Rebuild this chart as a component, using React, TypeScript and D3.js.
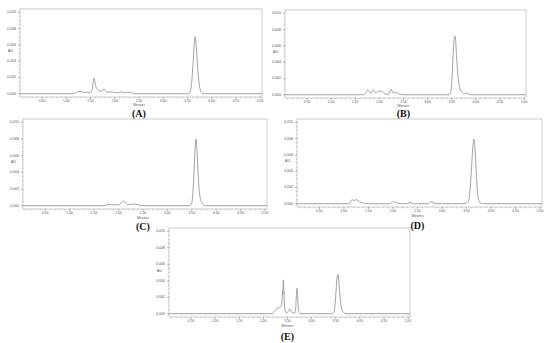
import React from 'react';
import * as d3 from 'd3';

// chromatogram readings: [minutes, AU]
const traceA: [number, number][] = [
  [0.05, 0], [1.15, 0], [1.22, 0.0002], [1.3, 0.0003], [1.35, 0.00015], [1.42, 0.0002],
  [1.49, 0.00015], [1.53, 0.0004], [1.572, 0.0019], [1.61, 0.0009], [1.655, 0.00045],
  [1.71, 0.0003], [1.78, 0.00055], [1.84, 0.0002], [1.96, 0.0002], [2.06, 0.0001],
  [2.14, 0.00025], [2.2, 0.0001], [2.28, 0.0002], [2.36, 0.0001], [2.42, 0], [3.52, 0],
  [3.56, 0.0003], [3.59, 0.0015], [3.62, 0.004], [3.645, 0.0064], [3.657, 0.007],
  [3.675, 0.0064], [3.7, 0.0042], [3.73, 0.0018], [3.76, 0.0006], [3.8, 0.0001], [3.84, 0],
  [5.04, 0],
];
const traceB: [number, number][] = [
  [0.05, 0], [1.68, 0], [1.72, 0.0002], [1.76, 0.00058], [1.82, 0.00018], [1.875, 0.00058],
  [1.93, 0.0002], [1.98, 0.00045], [2.05, 0.00042], [2.12, 0.0001], [2.19, 0.00005],
  [2.24, 0.00067], [2.29, 0.0002], [2.34, 0.0003], [2.41, 0.0001], [2.49, 0], [3.44, 0],
  [3.48, 0.0003], [3.51, 0.0025], [3.535, 0.0055], [3.555, 0.007], [3.568, 0.0072],
  [3.58, 0.0068], [3.6, 0.0048], [3.625, 0.0026], [3.65, 0.0013], [3.68, 0.0006],
  [3.72, 0.0003], [3.76, 0.0001], [3.8, 0.0002], [3.84, 0.0001], [3.88, 0], [5.04, 0],
];
const traceC: [number, number][] = [
  [0.05, 0], [1.72, 0], [1.79, 0.00017], [1.86, 0.0001], [2.0, 0.0001], [2.05, 0.0003],
  [2.1, 0.00056], [2.15, 0.0003], [2.19, 0.0001], [2.3, 0.0002], [2.4, 0.0001], [2.47, 0],
  [3.46, 0], [3.5, 0.0003], [3.525, 0.0018], [3.55, 0.0045], [3.57, 0.0072], [3.586, 0.008],
  [3.6, 0.0073], [3.62, 0.005], [3.645, 0.0024], [3.67, 0.001], [3.7, 0.0004], [3.74, 0.0001],
  [3.78, 0], [5.04, 0],
];
const traceD: [number, number][] = [
  [0.05, 0], [1.1, 0], [1.17, 0.0005], [1.21, 0.0004], [1.25, 0.0005], [1.33, 0.0002],
  [1.4, 0.0001], [1.46, 0], [1.93, 0], [2.01, 0.00025], [2.08, 0.0001], [2.15, 0], [2.28, 0],
  [2.35, 0.00015], [2.42, 0], [2.7, 0], [2.79, 0.00025], [2.88, 0], [3.4, 0], [3.5, 0.0001],
  [3.54, 0.0003], [3.57, 0.0015], [3.6, 0.004], [3.625, 0.0066], [3.653, 0.0079],
  [3.675, 0.0066], [3.7, 0.0038], [3.725, 0.0014], [3.75, 0.0004], [3.78, 0.0001], [3.82, 0],
  [5.04, 0],
];
const traceE: [number, number][] = [
  [0.05, 0], [2.19, 0], [2.24, 0.0004], [2.29, 0.00065], [2.35, 0.0008], [2.375, 0.001],
  [2.39, 0.0018], [2.397, 0.0027], [2.403, 0.0023], [2.408, 0.003], [2.414, 0.0041],
  [2.425, 0.003], [2.44, 0.001], [2.46, 0.0002], [2.49, 0.0001], [2.55, 0.00053],
  [2.6, 0.0001], [2.65, 0.0001], [2.67, 0.0006], [2.685, 0.0022], [2.698, 0.0031],
  [2.71, 0.0022], [2.725, 0.0007], [2.745, 0.0001], [2.77, 0], [3.43, 0], [3.47, 0.0003],
  [3.49, 0.0013], [3.51, 0.003], [3.53, 0.0045], [3.541, 0.0048], [3.555, 0.0045],
  [3.575, 0.0031], [3.6, 0.0015], [3.625, 0.0006], [3.66, 0.0002], [3.7, 0], [5.04, 0],
];

const traces = [traceA, traceB, traceC, traceD, traceE];
const panelLabels = ['(A)', '(B)', '(C)', '(D)', '(E)'];
const xTickValues = [0.5, 1, 1.5, 2, 2.5, 3, 3.5, 4, 4.5, 5];
const yTickValues = [0, 0.002, 0.004, 0.006, 0.008, 0.01];
const xLabel = 'Minutes';
const yLabel = 'AU';

// panel frames in page pixels
const frames = [
  { x0: 20, x1: 262, y0: 9, y1: 97, minutesY: 104.5, labelY: 113 },
  { x0: 285, x1: 526, y0: 10, y1: 98, minutesY: 105.5, labelY: 113 },
  { x0: 23, x1: 267, y0: 119, y1: 209, minutesY: 217.5, labelY: 226.5 },
  { x0: 297, x1: 542, y0: 119, y1: 207, minutesY: 215.5, labelY: 225 },
  { x0: 169, x1: 410, y0: 228, y1: 317, minutesY: 325.5, labelY: 336 },
];

const fmtX = d3.format('.2f');
const fmtY = d3.format('.3f');
const minorX = d3.range(0.1, 5.04, 0.1);
const minorY = d3.range(0, 0.0104, 0.0005);

function Panel({ data, frame, label }: { data: [number, number][]; frame: any; label: string }) {
  const x = d3.scaleLinear().domain([0.045, 5.04]).range([frame.x0, frame.x1]);
  const y = d3.scaleLinear().domain([-0.0004, 0.0104]).range([frame.y1, frame.y0]);
  const line = d3
    .line<[number, number]>()
    .x(d => x(d[0]))
    .y(d => y(d[1]))
    .curve(d3.curveMonotoneX);

  return (
    <g>
      <rect
        x={frame.x0}
        y={frame.y0}
        width={frame.x1 - frame.x0}
        height={frame.y1 - frame.y0}
        fill="none"
        stroke="#b4b4b4"
        strokeWidth={0.7}
      />
      {minorX.map(t => (
        <line key={'mx' + t} x1={x(t)} x2={x(t)} y1={frame.y1} y2={frame.y1 + 1.3} stroke="#999" strokeWidth={0.5} />
      ))}
      {xTickValues.map(t => (
        <g key={'x' + t}>
          <line x1={x(t)} x2={x(t)} y1={frame.y1} y2={frame.y1 + 2.2} stroke="#888" strokeWidth={0.5} />
          <text x={x(t)} y={frame.y1 + 3.8} fontSize={3.4} fill="#555" textAnchor="middle" dominantBaseline="central">
            {fmtX(t)}
          </text>
        </g>
      ))}
      {minorY.map(v => (
        <line key={'my' + v} x1={frame.x0 - 1.2} x2={frame.x0} y1={y(v)} y2={y(v)} stroke="#999" strokeWidth={0.5} />
      ))}
      {yTickValues.map(v => (
        <g key={'y' + v}>
          <line x1={frame.x0 - 2.2} x2={frame.x0} y1={y(v)} y2={y(v)} stroke="#888" strokeWidth={0.5} />
          <text x={frame.x0 - 4} y={y(v)} fontSize={3.6} fill="#555" textAnchor="end" dominantBaseline="central">
            {fmtY(v)}
          </text>
        </g>
      ))}
      <text x={frame.x0 - 9.5} y={y(0.0052)} fontSize={3.6} fill="#555" textAnchor="middle" dominantBaseline="central">
        {yLabel}
      </text>
      <text x={x(2.5)} y={frame.minutesY} fontSize={3.4} fill="#555" textAnchor="middle" dominantBaseline="central">
        {xLabel}
      </text>
      <path d={line(data) || ''} fill="none" stroke="#8a8a8a" strokeWidth={0.8} />
      <text
        x={x(2.5)}
        y={frame.labelY}
        fontSize={10}
        fontWeight="bold"
        fontFamily="'Liberation Serif', 'Times New Roman', serif"
        textAnchor="middle"
        dominantBaseline="central"
        fill="#111"
      >
        {label}
      </text>
    </g>
  );
}

export default function App() {
  return (
    <svg
      width={550}
      height={343}
      style={{ position: 'absolute', left: 0, top: 0, background: '#fff' }}
      fontFamily="'Liberation Sans', Arial, sans-serif"
    >
      {traces.map((t, i) => (
        <Panel key={i} data={t} frame={frames[i]} label={panelLabels[i]} />
      ))}
    </svg>
  );
}
